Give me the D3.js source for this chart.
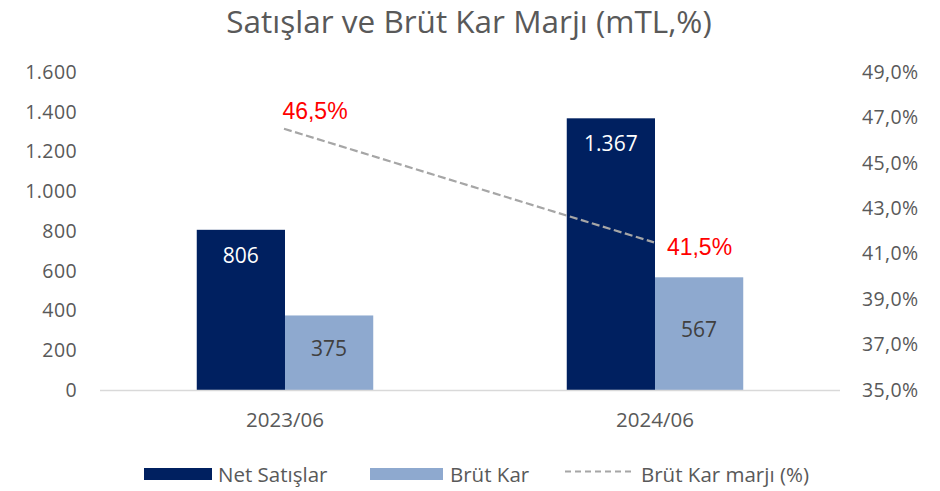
<!DOCTYPE html>
<html><head><meta charset="utf-8">
<script src="https://cdn.jsdelivr.net/npm/d3@7"></script>
<style>body{margin:0;background:#fff}svg{display:block}</style>
</head><body>
<svg id="c" width="940" height="491"></svg>
<script>
const categories = ["2023/06", "2024/06"];
const netSatislar = [806, 1367];
const brutKar = [375, 567];
const brutKarMarji = [46.5, 41.5];
const leftTicks = [0, 200, 400, 600, 800, 1000, 1200, 1400, 1600];
const rightTicks = [35, 37, 39, 41, 43, 45, 47, 49];
const seriesNames = ["Net Satışlar", "Brüt Kar", "Brüt Kar marjı (%)"];
const title = "Satışlar ve Brüt Kar Marjı (mTL,%)";

const svg = d3.select("#c");
const m = {l: 100, r: 840, t: 72, b: 390};
const font = "'Open Sans', sans-serif";
const gray = "#595959";
const cNet = "#002060", cBrut = "#8ea9cf";

const x = d3.scaleBand().domain(categories).range([m.l, m.r]).paddingInner(0).paddingOuter(0);
const yL = d3.scaleLinear().domain([0, 1600]).range([m.b, m.t]);
const yR = d3.scaleLinear().domain([35, 49]).range([m.b, m.t]);
const barW = x.bandwidth() * 0.2385;
const fmtThousands = v => d3.format(",")(v).replace(/,/g, ".");

svg.append("text").attr("x", 469).attr("y", 33).attr("text-anchor", "middle")
  .attr("font-family", font).attr("font-size", 31.5).attr("fill", gray).text(title);

// left axis
const axL = svg.append("g").attr("transform", `translate(${m.l - 23},0)`)
  .call(d3.axisLeft(yL).tickValues(leftTicks).tickSize(0).tickPadding(0).tickFormat(fmtThousands));
axL.select(".domain").remove();
axL.selectAll("text").attr("font-family", font).attr("font-size", 19.5).attr("letter-spacing", 0.4).attr("fill", gray);

const axR = svg.append("g").attr("transform", `translate(${m.r + 22},0)`)
  .call(d3.axisRight(yR).tickValues(rightTicks).tickSize(0).tickPadding(0)
    .tickFormat(d => d.toFixed(1).replace(".", ",") + "%"));
axR.select(".domain").remove();
axR.selectAll("text").attr("font-family", font).attr("font-size", 19.5).attr("letter-spacing", 0.4).attr("fill", gray);

// bars
const g = svg.append("g");
categories.forEach((c, i) => {
  const cx = x(c) + x.bandwidth() / 2;
  g.append("rect").attr("x", cx - barW).attr("width", barW)
    .attr("y", yL(netSatislar[i])).attr("height", yL(0) - yL(netSatislar[i])).attr("fill", cNet);
  g.append("rect").attr("x", cx).attr("width", barW)
    .attr("y", yL(brutKar[i])).attr("height", yL(0) - yL(brutKar[i])).attr("fill", cBrut);
  g.append("text").attr("x", cx - barW / 2).attr("y", yL(netSatislar[i]) + 33)
    .attr("text-anchor", "middle").attr("font-family", font).attr("font-size", 21).attr("fill", "#fff")
    .text(fmtThousands(netSatislar[i]));
  g.append("text").attr("x", cx + barW / 2).attr("y", (yL(brutKar[i]) + yL(0)) / 2 + 3.5)
    .attr("text-anchor", "middle").attr("font-family", font).attr("font-size", 21).attr("fill", "#404040")
    .text(fmtThousands(brutKar[i]));
});

// baseline
svg.append("line").attr("x1", m.l).attr("x2", m.r).attr("y1", m.b + 0.5).attr("y2", m.b + 0.5)
  .attr("stroke", "#d9d9d9").attr("stroke-width", 1.5);

// category labels
const axX = svg.append("g").attr("transform", `translate(0,${m.b})`)
  .call(d3.axisBottom(x).tickSize(0));
axX.select(".domain").remove();
axX.selectAll("text").attr("dy", null).attr("y", 37).attr("font-family", font)
  .attr("font-size", 20.5).attr("fill", gray);

// line
const line = d3.line().x((d, i) => x(categories[i]) + x.bandwidth() / 2 - 1).y(d => yR(d));
svg.append("path").datum(brutKarMarji).attr("d", line).attr("fill", "none")
  .attr("stroke", "#a6a6a6").attr("stroke-width", 2.2).attr("stroke-dasharray", "8,3.5");
brutKarMarji.forEach((v, i) => {
  const cx = x(categories[i]) + x.bandwidth() / 2;
  const dx = i === 0 ? 30 : 44.5, dy = i === 0 ? -9.6 : 12.6;
  svg.append("text").attr("x", cx + dx).attr("y", yR(v) + dy)
    .attr("text-anchor", "middle").attr("font-family", "'Liberation Sans', Arial, sans-serif")
    .attr("font-size", 23).attr("fill", "#ff0000").text(v.toFixed(1).replace(".", ",") + "%");
});

// legend
const lg = svg.append("g");
const lyT = 481.5;
const lt = (xx, s) => lg.append("text").attr("x", xx).attr("y", lyT).attr("font-family", font)
  .attr("font-size", 20.5).attr("fill", gray).text(s);
lg.append("rect").attr("x", 144).attr("y", 468).attr("width", 68).attr("height", 12).attr("fill", cNet);
lt(218, seriesNames[0]);
lg.append("rect").attr("x", 370).attr("y", 468).attr("width", 73).attr("height", 12).attr("fill", cBrut);
lt(450, seriesNames[1]);
lg.append("line").attr("x1", 565).attr("x2", 635).attr("y1", 471.5).attr("y2", 471.5)
  .attr("stroke", "#a6a6a6").attr("stroke-width", 2).attr("stroke-dasharray", "6,4");
lt(641, seriesNames[2]);
</script>
</body></html>
